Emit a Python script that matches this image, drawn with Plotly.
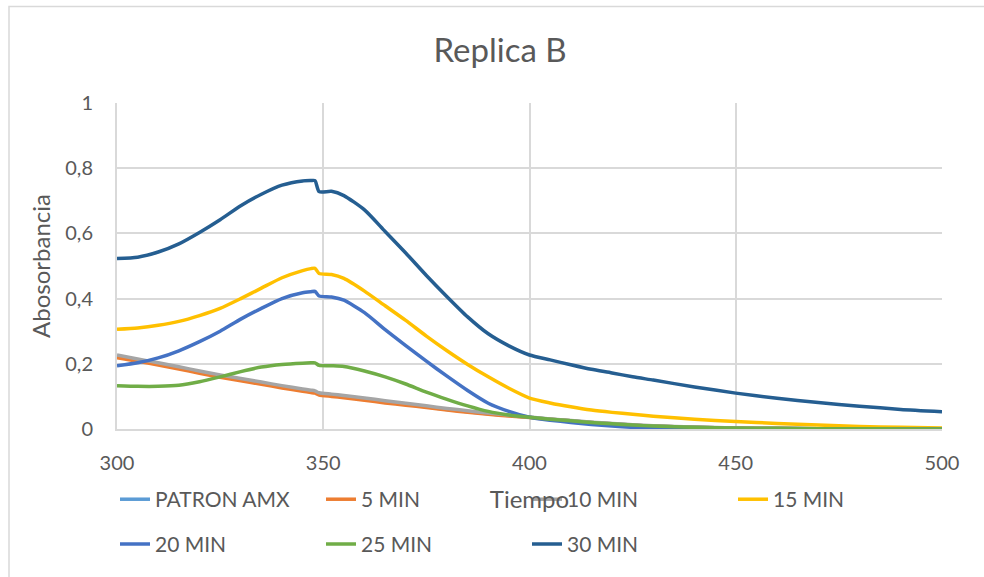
import plotly.graph_objects as go

# Wavelength grid (nm)
tiempo = [300, 305, 310, 315, 320, 325, 330, 335, 340, 345, 347, 348, 349, 352, 355,
          360, 365, 370, 375, 380, 385, 390, 395, 400, 405, 410, 415, 420, 425, 430,
          440, 450, 460, 470, 480, 490, 500]

patron_amx = [0.223, 0.211, 0.199, 0.187, 0.174, 0.162, 0.151, 0.140, 0.129, 0.119, 0.115, 0.113, 0.107,
              0.103, 0.099, 0.091, 0.083, 0.076, 0.068, 0.060, 0.053, 0.047, 0.041, 0.036, 0.030,
              0.025, 0.020, 0.016, 0.012, 0.009, 0.005, 0.003, 0.002, 0.001, 0.001, 0.000, 0.000]

min_5 = [0.219, 0.208, 0.196, 0.184, 0.171, 0.159, 0.148, 0.137, 0.126, 0.116, 0.112, 0.110, 0.104,
         0.100, 0.096, 0.088, 0.080, 0.073, 0.066, 0.058, 0.051, 0.045, 0.040, 0.035, 0.030,
         0.025, 0.020, 0.016, 0.012, 0.009, 0.005, 0.003, 0.002, 0.001, 0.001, 0.000, 0.000]

min_10 = [0.227, 0.215, 0.203, 0.191, 0.178, 0.166, 0.155, 0.144, 0.133, 0.123, 0.119, 0.117, 0.111,
          0.107, 0.103, 0.095, 0.087, 0.079, 0.071, 0.063, 0.056, 0.049, 0.043, 0.037, 0.031,
          0.026, 0.021, 0.017, 0.013, 0.010, 0.006, 0.003, 0.002, 0.001, 0.001, 0.000, 0.000]

min_15 = [0.306, 0.310, 0.318, 0.330, 0.348, 0.370, 0.400, 0.432, 0.464, 0.486, 0.492, 0.493, 0.477,
          0.474, 0.462, 0.423, 0.378, 0.333, 0.285, 0.240, 0.198, 0.160, 0.125, 0.095, 0.080,
          0.068, 0.058, 0.051, 0.045, 0.039, 0.030, 0.023, 0.017, 0.012, 0.008, 0.005, 0.003]

min_20 = [0.194, 0.203, 0.218, 0.240, 0.268, 0.300, 0.337, 0.370, 0.400, 0.418, 0.421, 0.422, 0.408,
          0.405, 0.395, 0.357, 0.305, 0.256, 0.208, 0.162, 0.118, 0.079, 0.054, 0.036, 0.027,
          0.020, 0.014, 0.009, 0.005, 0.002, -0.002, -0.003, -0.003, -0.002, -0.001, 0.000, 0.000]

min_25 = [0.133, 0.131, 0.131, 0.134, 0.145, 0.160, 0.176, 0.190, 0.198, 0.202, 0.203, 0.203, 0.195,
          0.194, 0.192, 0.178, 0.160, 0.138, 0.113, 0.091, 0.071, 0.054, 0.043, 0.036, 0.030,
          0.025, 0.020, 0.016, 0.012, 0.009, 0.005, 0.003, 0.002, 0.001, 0.001, 0.000, 0.000]

min_30 = [0.523, 0.527, 0.543, 0.568, 0.603, 0.642, 0.685, 0.720, 0.748, 0.761, 0.762, 0.762, 0.728,
          0.729, 0.716, 0.672, 0.606, 0.540, 0.471, 0.406, 0.344, 0.292, 0.255, 0.227, 0.212,
          0.197, 0.183, 0.172, 0.160, 0.150, 0.129, 0.110, 0.094, 0.081, 0.070, 0.060, 0.053]

series = [
    ("PATRON AMX", patron_amx, "#5B9BD5", "legend"),
    ("5 MIN", min_5, "#ED7D31", "legend"),
    ("10 MIN", min_10, "#A5A5A5", "legend"),
    ("15 MIN", min_15, "#FFC000", "legend"),
    ("20 MIN", min_20, "#4472C4", "legend2"),
    ("25 MIN", min_25, "#70AD47", "legend2"),
    ("30 MIN", min_30, "#255E91", "legend2"),
]

FONT = "Lato"
TEXT = "#595959"
GRID = "#D9D9D9"

fig = go.Figure()
for name, vals, color, leg in series:
    fig.add_trace(go.Scatter(
        x=tiempo, y=vals, name=name, mode="lines",
        line=dict(color=color, width=3.5, shape="spline", smoothing=0.6),
        legend=leg,
    ))

W, H = 984, 577
L, R, T, B = 117, 42, 103, 146
pw, ph = W - L - R, H - T - B


def px_x(px):
    return (px - L) / pw


def px_y(py):
    return (H - B - py) / ph


legend_common = dict(
    orientation="h",
    font=dict(family=FONT, size=21, color=TEXT),
    entrywidth=161, entrywidthmode="pixels",
    bgcolor="rgba(0,0,0,0)", borderwidth=0,
    xanchor="left", yanchor="middle",
    itemclick=False, itemdoubleclick=False,
)

fig.update_layout(
    width=W, height=H,
    margin=dict(l=L, r=R, t=T, b=B),
    paper_bgcolor="white", plot_bgcolor="white",
    separators=",.",
    font=dict(family=FONT, color=TEXT),
    title=dict(text="Replica B", x=500 / W, xanchor="center",
               y=1 - 50 / H, yanchor="middle",
               font=dict(family=FONT, size=33, color=TEXT)),
    xaxis=dict(
        range=[300, 500], tickvals=[300, 350, 400, 450, 500],
        showgrid=True, gridcolor=GRID, gridwidth=2,
        showline=True, linecolor=GRID, linewidth=2,
        zeroline=False, ticks="",
        ticklabelstandoff=15,
        tickfont=dict(family=FONT, size=20, color=TEXT),
        title=dict(text="Tiempo", standoff=18,
                   font=dict(family=FONT, size=24, color=TEXT)),
        automargin=False,
    ),
    yaxis=dict(
        range=[0, 1], tickvals=[0, 0.2, 0.4, 0.6, 0.8, 1],
        showgrid=True, gridcolor=GRID, gridwidth=2,
        showline=True, linecolor=GRID, linewidth=2,
        zeroline=False, ticks="",
        ticklabelstandoff=18,
        tickfont=dict(family=FONT, size=20, color=TEXT),
        title=dict(text="Abosorbancia", standoff=8,
                   font=dict(family=FONT, size=24, color=TEXT)),
        automargin=False,
    ),
    legend=dict(x=px_x(115), y=px_y(502), **legend_common),
    legend2=dict(x=px_x(115), y=px_y(547), **legend_common),
    shapes=[dict(
        type="rect", xref="paper", yref="paper", layer="below",
        x0=px_x(9), x1=px_x(995), y0=px_y(590), y1=px_y(6),
        line=dict(color=GRID, width=1.5), fillcolor="rgba(0,0,0,0)",
    )],
)

fig.write_html("out.html")
